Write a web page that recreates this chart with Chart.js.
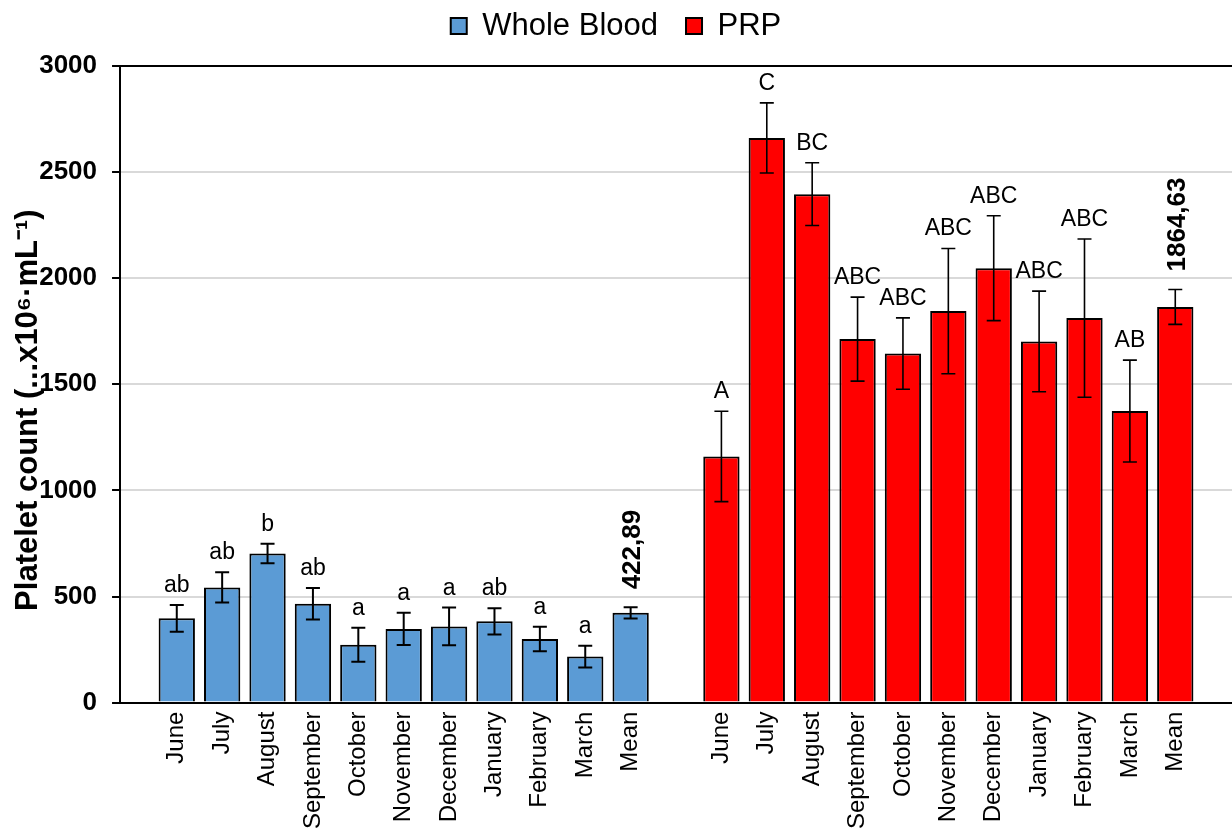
<!DOCTYPE html>
<html>
<head>
<meta charset="utf-8">
<script src="https://cdn.jsdelivr.net/npm/chart.js@4/dist/chart.umd.min.js"></script>
<style>
  html, body { margin: 0; padding: 0; background: #fff; }
</style>
</head>
<body>
<canvas id="chart" width="1232" height="832"></canvas>
<script>
// months shown for each group, the last bar of each group is the mean
const months = ["June", "July", "August", "September", "October", "November",
  "December", "January", "February", "March", "Mean"];

const wbMeans = [397, 543, 703, 466, 273, 347, 359, 383, 300, 217, 422.89];
const wbErr = [63, 71, 46, 74, 80, 76, 89, 62, 58, 51, 26];
const wbLetters = ["ab", "ab", "b", "ab", "a", "a", "a", "ab", "a", "a"];

const prpMeans = [1160, 2661, 2396, 1713, 1645, 1845, 2047, 1702, 1812, 1374, 1864.63];
const prpErr = [213, 165, 148, 198, 168, 295, 247, 237, 373, 240, 82];
const prpLetters = ["A", "C", "BC", "ABC", "ABC", "ABC", "ABC", "ABC", "ABC", "AB"];

const meanLabels = ["422,89", "1864,63"];

// x positions: whole blood 0..10, one empty slot, then PRP 12..22
const wbX = months.map((m, i) => i);
const prpX = months.map((m, i) => i + months.length + 1);
const xTickLabels = [...months, "", ...months];

Chart.defaults.font.family = "'Liberation Sans', Arial, sans-serif";
Chart.defaults.color = "#000";

const errorBars = {
  id: "errorBars",
  afterDatasetsDraw(chart) {
    const { ctx } = chart;
    const x = chart.scales.x, y = chart.scales.y;
    const groups = [
      { pos: wbX, means: wbMeans, errs: wbErr, letters: wbLetters, mean: meanLabels[0], lw: 2 },
      { pos: prpX, means: prpMeans, errs: prpErr, letters: prpLetters, mean: meanLabels[1], lw: 1.6 }
    ];
    ctx.save();
    ctx.strokeStyle = "#000";
    ctx.fillStyle = "#000";
    groups.forEach(g => {
      g.means.forEach((m, i) => {
        const px = x.getPixelForValue(g.pos[i]);
        const top = y.getPixelForValue(m + g.errs[i]);
        const bot = y.getPixelForValue(m - g.errs[i]);
        ctx.lineWidth = g.lw;
        ctx.beginPath();
        ctx.moveTo(px, top); ctx.lineTo(px, bot);
        ctx.moveTo(px - 7, top); ctx.lineTo(px + 7, top);
        ctx.moveTo(px - 7, bot); ctx.lineTo(px + 7, bot);
        ctx.stroke();

        if (i < g.letters.length) {
          ctx.font = "23px 'Liberation Sans', Arial, sans-serif";
          ctx.textAlign = "center";
          ctx.textBaseline = "alphabetic";
          ctx.fillText(g.letters[i], px, top - 13);
        } else {
          // mean value, written upwards
          const size = 26;
          ctx.font = "bold " + size + "px 'Liberation Sans', Arial, sans-serif";
          ctx.save();
          ctx.translate(px + size * 0.36, top - 18);
          ctx.rotate(-Math.PI / 2);
          ctx.textAlign = "left";
          ctx.textBaseline = "alphabetic";
          ctx.fillText(g.mean, 0, 0);
          ctx.restore();
        }
      });
    });
    ctx.restore();
  }
};

// a bit more room between the legend and the plot
const legendSpacing = {
  id: "legendSpacing",
  beforeInit(chart) {
    const fit = chart.legend.fit;
    chart.legend.fit = function () {
      fit.call(this);
      this.height += 14.5;
    };
  }
};

new Chart(document.getElementById("chart"), {
  type: "bar",
  data: {
    datasets: [
      {
        label: "Whole Blood",
        data: wbMeans.map((v, i) => ({ x: wbX[i], y: v })),
        backgroundColor: "#5b9bd5",
        borderColor: "#000",
        borderWidth: 2
      },
      {
        label: "PRP",
        data: prpMeans.map((v, i) => ({ x: prpX[i], y: v })),
        backgroundColor: "#ff0000",
        borderColor: "#000",
        borderWidth: 2
      }
    ]
  },
  options: {
    responsive: false,
    animation: false,
    grouped: false,
    categoryPercentage: 1,
    barPercentage: 0.8,
    layout: { padding: { top: -17.5, left: 0, right: 0, bottom: -6 } },
    plugins: {
      legend: {
        position: "top",
        labels: { font: { size: 31 }, boxWidth: 16, boxHeight: 16, padding: 28 }
      },
      tooltip: { enabled: false }
    },
    scales: {
      x: {
        type: "linear",
        offset: false,
        min: -1.25,
        max: prpX[prpX.length - 1] + 1.25,
        afterBuildTicks(scale) {
          scale.ticks = xTickLabels.map((t, i) => ({ value: i }));
        },
        ticks: {
          autoSkip: false,
          maxRotation: 90,
          minRotation: 90,
          padding: 9,
          font: { size: 24 },
          callback: v => xTickLabels[v]
        },
        grid: { display: false, drawTicks: false },
        border: { display: true, color: "#000", width: 2 }
      },
      y: {
        min: 0,
        max: 3000,
        ticks: {
          stepSize: 500,
          padding: 15,
          font: { size: 26, weight: "bold" },
          callback: v => String(v)
        },
        grid: {
          color: ctx => (ctx.tick && (ctx.tick.value === 3000 || ctx.tick.value === 0)) ? "#000" : "#d9d9d9",
          lineWidth: 2,
          tickLength: 8,
          tickColor: "#000"
        },
        border: { display: true, color: "#000", width: 2 },
        title: {
          display: true,
          text: "Platelet count (...x10\u2076\u00b7mL\u207b\u00b9)      ",
          font: { size: 31, weight: "bold" },
          padding: { top: 10, bottom: -23 }
        }
      }
    }
  },
  plugins: [errorBars, legendSpacing]
});
</script>
</body>
</html>
